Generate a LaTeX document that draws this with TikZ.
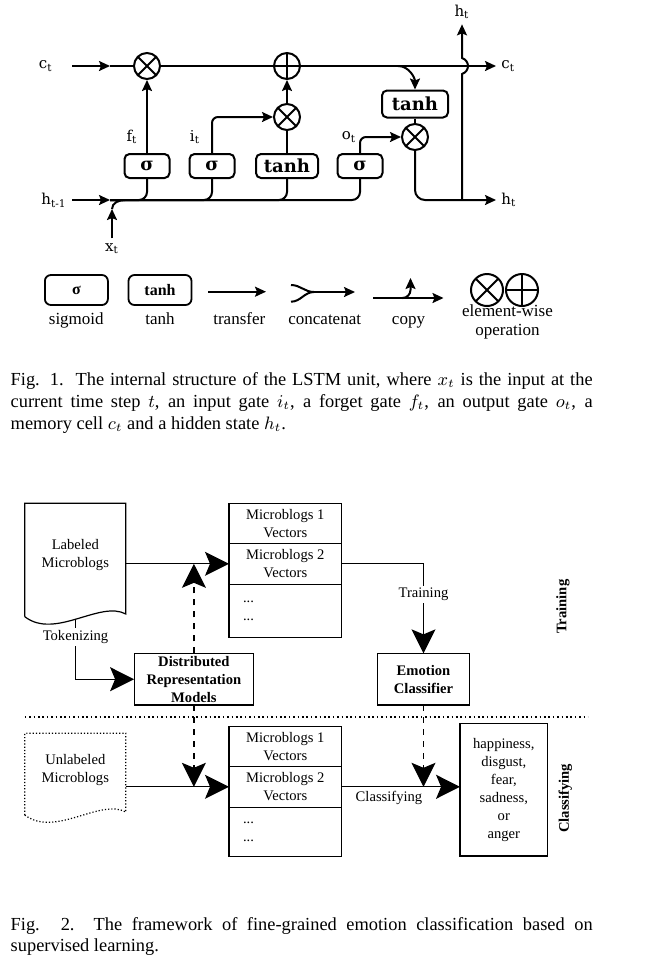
\documentclass[tikz,border=0pt]{standalone}
\usepackage{fontspec}
\setmainfont{Liberation Serif}
\newfontfamily\dvs{DejaVu Serif}
\usetikzlibrary{positioning,arrows.meta}
\newcommand\figtxt{\fontsize{7.3}{8.9}\selectfont}

\begin{document}
\begin{tikzpicture}[x=0.5pt,y=-0.5pt,
  arr/.style={-{Stealth[length=5.5pt,width=5pt,inset=1pt]},line width=1pt},
  ln/.style={line width=1pt},
  gate/.style={draw,line width=1pt,rounded corners=2.5pt,minimum width=22.5pt,minimum height=12pt,inner sep=0pt,font=\dvs\bfseries\fontsize{9}{9}\selectfont},
  op/.style={circle,draw,line width=1pt,minimum size=13pt,inner sep=0pt},
  mulop/.style={op,path picture={\draw[line width=1pt] (path picture bounding box.north west) -- (path picture bounding box.south east) (path picture bounding box.north east) -- (path picture bounding box.south west);}},
  addop/.style={op,path picture={\draw[line width=1pt] (path picture bounding box.north) -- (path picture bounding box.south) (path picture bounding box.west) -- (path picture bounding box.east);}},
  lbl/.style={inner sep=2.5pt,font=\dvs\fontsize{7.5}{8}\selectfont},
  lgate/.style={draw,line width=0.9pt,rounded corners=3pt,minimum width=31.5pt,minimum height=15pt,inner sep=0pt,font=\bfseries\fontsize{8}{8}\selectfont},
  ltxt/.style={inner sep=0pt,anchor=base,font=\fontsize{8.5}{10}\selectfont},
  fbox/.style={draw,line width=0.6pt,inner sep=0pt,outer sep=0pt,align=center,font=\figtxt},
  big/.style={-{Stealth[length=12pt,width=12pt,inset=2.5pt]},line width=0.6pt},
  captxt/.style={inner sep=0pt,anchor=base west,font=\fontsize{9.2}{11}\selectfont}]
\useasboundingbox (0,0) rectangle (647,960);

% LSTM cell
\node[mulop] (mf) at (147,66) {};
\node[addop] (ad) at (287,66) {};
\node[mulop] (mi) at (287,117) {};
\node[mulop] (mo) at (415,137) {};
\node[gate] (sf) at (147,166) {σ};
\node[gate] (si) at (212,166) {σ};
\node[gate,minimum width=31pt] (tg) at (287,166) {tanh};
\node[gate] (so) at (360,166) {σ};
\node[gate,minimum width=33pt,minimum height=13.5pt] (tc) at (415,104) {tanh};
\node[lbl,anchor=east] (cin) at (58,66) {c\textsubscript{t}};
\node[lbl,anchor=west] (cout) at (496,66) {c\textsubscript{t}};
\node[lbl,anchor=east] (hin) at (72,200) {h\textsubscript{t-1}};
\node[lbl,anchor=west] (hout) at (496,200) {h\textsubscript{t}};
\node[lbl] (htop) at (462,12) {h\textsubscript{t}};
\node[lbl] (xin) at (112,249) {x\textsubscript{t}};
\node[lbl] (ft) at (132,137) {f\textsubscript{t}};
\node[lbl] (it) at (195,137) {i\textsubscript{t}};
\node[lbl] (ot) at (349,137) {o\textsubscript{t}};
\coordinate (cmid) at (110,66);
\coordinate (hmid) at (110,200);
\coordinate (xmid) at (112,209);
\coordinate (xjoin) at (125,200);
\coordinate (cbr) at (398,66);
\coordinate (hsplit) at (462,200);

\draw[arr] ([xshift=7pt]cin.east) -- (cmid);
\draw[ln] (cmid) -- (mf) -- (ad);
\draw[arr] (ad) -- (cout);
\draw[arr] (hin) -- (hmid);
\draw[arr] (xin) -- (xmid);
\draw[ln] (xmid) to[out=90,in=180] (xjoin);
\draw[ln,rounded corners=4pt] (hmid) -| (so.south);
\draw[ln,rounded corners=4pt] (hmid) -| (sf.south);
\draw[ln,rounded corners=4pt] (hmid) -| (si.south);
\draw[ln,rounded corners=4pt] (hmid) -| (tg.south);
\draw[arr] (sf) -- (mf);
\draw[arr,rounded corners=3pt] (si.north) |- (mi.west);
\draw[ln] (tg) -- (mi);
\draw[arr] (mi) -- (ad);
\draw[arr,rounded corners=3pt] (so.north) |- (mo.west);
\draw[arr] (cbr) to[out=0,in=90] (tc.north);
\draw[ln] (tc) -- (mo);
\draw[arr,rounded corners=5pt] (mo.south) |- (hout.west);
\draw[arr] (hsplit) -- (462,74) .. controls (470,71) and (470,61) .. (462,58) -- (htop);

% legend
\node[lgate] (lsig) at (76.4,290) {σ};
\node[lgate] (ltanh) at (160,290) {tanh};
\node[mulop,minimum size=16pt] (lmul) at (487,290) {};
\node[addop,minimum size=16pt] (ladd) at (522,290) {};
\node[ltxt] (tsig) at (76.3,324) {sigmoid};
\node[ltxt] (ttanh) at (160,324) {tanh};
\node[ltxt] (ttra) at (239.3,324) {transfer};
\node[ltxt] (tcon) at (324.7,324) {concatenat};
\node[ltxt] (tcpy) at (408.5,324) {copy};
\node[ltxt] (tew) at (507.5,316) {element-wise};
\node[ltxt] (top) at (507.5,335) {operation};
\coordinate (tra) at (208.4,291.7);
\coordinate (trb) at (266,291.7);
\coordinate (cca) at (291,285);
\coordinate (ccb) at (291,301.7);
\coordinate (ccj) at (314,292);
\coordinate (cce) at (355,292);
\coordinate (cpa) at (373.4,298);
\coordinate (cpb) at (443.5,298);
\coordinate (cpj) at (403,298);
\coordinate (cpt) at (410.5,278);
\draw[arr] (tra) -- (trb);
\draw[ln] (cca) to[out=0,in=180] (ccj) (ccb) to[out=0,in=180] (ccj);
\draw[arr] (ccj) -- (cce);
\draw[arr] (cpa) -- (cpb);
\draw[arr,rounded corners=4pt] (cpj) -| (cpt);

\node[captxt] (cap1a) at (10.3,385) {\makebox[291pt][s]{Fig. 1.\ \ The internal structure of the LSTM unit, where $x_t$ is the input at the}};
\node[captxt] (cap1b) at (10.3,407) {\makebox[291pt][s]{current time step $t$, an input gate $i_t$, a forget gate $f_t$, an output gate $o_t$, a}};
\node[captxt] (cap1c) at (10.3,429) {memory cell $c_t$ and a hidden state $h_t$.};

% framework
\node[fbox,minimum width=56.3pt,minimum height=20pt] (va1) at (285.3,523.3) {Microblogs 1\\Vectors};
\node[fbox,minimum width=56.3pt,minimum height=20.5pt,below=0pt of va1] (va2) {Microblogs 2\\Vectors};
\node[fbox,minimum height=26.5pt,inner xsep=7pt,text width=42.3pt,align=left,below=0pt of va2] (va3) {...\\...};
\node[fbox,minimum width=56.3pt,minimum height=20pt] (vb1) at (285.3,746.3) {Microblogs 1\\Vectors};
\node[fbox,minimum width=56.3pt,minimum height=20.5pt,below=0pt of vb1] (vb2) {Microblogs 2\\Vectors};
\node[fbox,minimum height=24.7pt,inner xsep=7pt,text width=42.3pt,align=left,below=0pt of vb2] (vb3) {...\\...};
\node[fbox,font=\figtxt\bfseries,minimum width=59.8pt,minimum height=25.85pt] (dist) at (193.9,679.2) {Distributed\\Representation\\Models};
\node[fbox,font=\figtxt\bfseries,minimum width=46pt,minimum height=25.85pt] (emo) at (423.5,679.2) {Emotion\\Classifier};
\node[fbox,font=\fontsize{7.3}{9}\selectfont,minimum width=43.75pt,minimum height=66.35pt] (res) at (503.8,789.7) {happiness,\\disgust,\\fear,\\sadness,\\or\\anger};
\node[align=center,font=\figtxt] (lab) at (75.3,555.3) {Labeled\\Microblogs};
\node[align=center,font=\figtxt] (unl) at (75.3,770.2) {Unlabeled\\Microblogs};
\node[rotate=90,font=\figtxt\bfseries] (trn) at (563,606.7) {Training};
\node[rotate=90,font=\figtxt\bfseries] (cls) at (565.3,798.3) {Classifying};

\draw[line width=0.6pt] (24.8,616.7) -- (24.8,503.3) -- (125.8,503.3) -- (125.8,614) .. controls (100,600) and (55,640) .. (24.8,616.7);
\draw[line width=0.6pt,densely dotted] (24.8,815) -- (24.8,733.3) -- (125.8,733.3) -- (125.8,812) .. controls (100,798) and (55,838) .. (24.8,815);
\coordinate (labr) at (125.8,563.8);
\coordinate (tok) at (75.5,618.8);
\coordinate (unlr) at (125.8,786.8);
\coordinate (sepl) at (24.8,716.7);
\coordinate (sepr) at (588,716.7);

\draw[big] (labr) -- (va2.west);
\draw[big,dashed] (dist.north) -- (dist.north |- va2.west);
\draw[big] (tok) |- (dist.west) node[pos=0.15,fill=white,inner sep=1pt,font=\figtxt] {Tokenizing};
\draw[big] (va2.east) -| (emo.north) node[pos=0.67,fill=white,inner sep=1pt,font=\figtxt] {Training};
\draw[line width=0.8pt,dash pattern=on 0.8pt off 1.4pt] (sepl) -- (sepr);
\draw[big,dashed] (dist.south) -- (dist.south |- vb2.west);
\draw[big,dashed] (emo.south) -- (emo.south |- vb2.east);
\draw[big] (unlr) -- (vb2.west);
\draw[big] (vb2.east) -- (vb2.east -| res.west) node[pos=0.4,below,inner sep=2pt,font=\figtxt] {Classifying};

\node[captxt] (cap2a) at (10.3,930) {\makebox[291pt][s]{Fig. 2.\ \ The framework of fine-grained emotion classification based on}};
\node[captxt] (cap2b) at (10.3,951) {supervised learning.};
\end{tikzpicture}
\end{document}
